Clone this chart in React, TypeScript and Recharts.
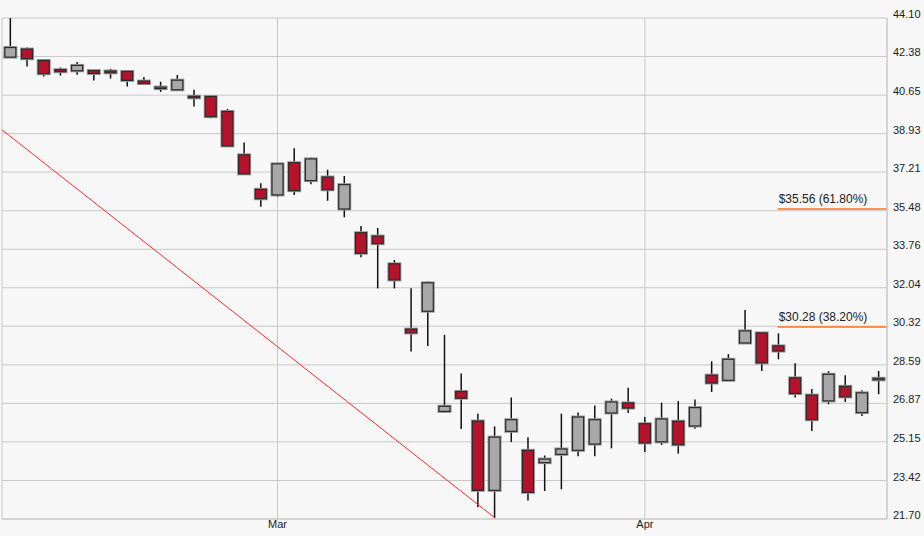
import {
  ComposedChart,
  Bar,
  Line,
  XAxis,
  YAxis,
  CartesianGrid,
  ReferenceLine,
} from "recharts";

// trading days, Feb 6 – Apr 22
const dates = [
  "2020-02-06", "2020-02-07", "2020-02-10", "2020-02-11", "2020-02-12", "2020-02-13",
  "2020-02-14", "2020-02-18", "2020-02-19", "2020-02-20", "2020-02-21", "2020-02-24",
  "2020-02-25", "2020-02-26", "2020-02-27", "2020-02-28",
  "2020-03-02", "2020-03-03", "2020-03-04", "2020-03-05", "2020-03-06", "2020-03-09",
  "2020-03-10", "2020-03-11", "2020-03-12", "2020-03-13", "2020-03-16", "2020-03-17",
  "2020-03-18", "2020-03-19", "2020-03-20", "2020-03-23", "2020-03-24", "2020-03-25",
  "2020-03-26", "2020-03-27", "2020-03-30", "2020-03-31",
  "2020-04-01", "2020-04-02", "2020-04-03", "2020-04-06", "2020-04-07", "2020-04-08",
  "2020-04-09", "2020-04-13", "2020-04-14", "2020-04-15", "2020-04-16", "2020-04-17",
  "2020-04-20", "2020-04-21", "2020-04-22",
];

const opens = [
  42.35, 42.71, 42.2, 41.79, 41.74, 41.75, 41.73, 41.71, 41.28, 40.99, 40.89, 40.6,
  40.59, 39.92, 37.98, 36.44,
  36.19, 37.63, 36.83, 36.99, 35.56, 34.5, 34.35, 33.11, 30.19, 30.99, 26.51, 27.4,
  26.08, 22.98, 25.62, 24.77, 24.22, 24.59, 24.77, 25.05, 26.44, 26.89,
  25.96, 25.15, 26.07, 25.86, 28.13, 27.9, 29.57, 30.02, 29.44, 28.01, 27.24, 26.98,
  27.63, 26.46, 27.97,
];
const closes = [
  42.78, 42.28, 41.61, 41.7, 41.98, 41.62, 41.65, 41.31, 41.17, 41.01, 41.32, 40.57,
  39.69, 38.38, 37.13, 36.02,
  37.58, 36.38, 37.8, 36.42, 36.65, 33.58, 34.01, 32.39, 30.02, 32.26, 26.74, 27.1,
  22.98, 25.36, 26.14, 22.89, 24.38, 24.83, 26.26, 26.14, 26.93, 26.66,
  25.1, 26.17, 25.02, 26.68, 27.78, 28.84, 30.11, 28.68, 29.21, 27.31, 26.14, 28.17,
  27.16, 27.34, 27.99,
];
const highs = [
  44.1, 42.78, 42.23, 41.89, 42.13, 41.76, 41.83, 41.74, 41.46, 41.25, 41.55, 40.89,
  40.63, 40.03, 38.53, 36.71,
  37.6, 38.28, 37.86, 37.31, 37.04, 34.8, 34.71, 33.28, 32.02, 32.32, 29.93, 28.2,
  26.41, 25.84, 27.13, 25.36, 24.54, 26.41, 26.46, 26.78, 27.08, 27.57,
  26.26, 26.9, 26.97, 27.04, 28.75, 29.07, 31.04, 30.02, 30.0, 28.66, 27.51, 28.31,
  28.13, 27.46, 28.32,
];
const lows = [
  42.34, 41.93, 41.48, 41.53, 41.56, 41.31, 41.4, 41.04, 41.11, 40.79, 40.88, 40.14,
  39.62, 38.35, 37.1, 35.66,
  36.11, 36.19, 36.67, 35.93, 35.19, 33.4, 32.01, 32.01, 29.19, 29.44, 26.44, 25.72,
  22.23, 21.74, 25.14, 22.53, 22.95, 23.03, 24.51, 24.51, 24.86, 26.44,
  24.7, 25.01, 24.62, 25.74, 27.38, 27.9, 29.55, 28.32, 28.84, 27.13, 25.63, 26.83,
  26.93, 26.3, 27.28,
];

const yTicks = [
  21.7, 23.42, 25.15, 26.87, 28.59, 30.32, 32.04, 33.76, 35.48, 37.21, 38.93, 40.65,
  42.38, 44.1,
];
const monthTicks = ["2020-03-02", "2020-04-01"];
const monthLabels = ["Mar", "Apr"];

const trendLine = [
  { idx: -0.5, v: 39.1 },
  { idx: 29, v: 21.76 },
];
const fibLevels = [35.56, 30.28];
const fibLabels = ["$35.56 (61.80%)", "$30.28 (38.20%)"];
const fibStart = 45.95;

const rows = dates.map((d, i) => ({
  date: d,
  open: opens[i],
  close: closes[i],
  high: highs[i],
  low: lows[i],
}));

const FONT = "'Liberation Sans', Arial, sans-serif";

function Candle(props: any) {
  const { x, y, width, height, payload } = props;
  if (x == null || y == null) return null;
  const { open, close, high, low } = payload;
  const ratio = height / (high - low || 1);
  const yOf = (v: number) => y + (high - v) * ratio;
  const cx = x + width / 2;
  const up = close >= open;
  const top = yOf(Math.max(open, close));
  const bh = Math.max(yOf(Math.min(open, close)) - top, 1.5);
  const w = width - 1;
  return (
    <g>
      <line x1={cx} x2={cx} y1={y} y2={y + height} stroke="#111" strokeWidth={1.5} />
      <rect x={cx - w / 2} y={top} width={w} height={bh} fill="none" stroke="#9a9a9a" strokeWidth={3} />
      <rect
        x={cx - w / 2}
        y={top}
        width={w}
        height={bh}
        fill={up ? "#a8a8a8" : "#b5122b"}
        stroke="#2a2a2a"
        strokeWidth={1.2}
      />
    </g>
  );
}

function PriceTick(props: any) {
  const { x, y, payload } = props;
  return (
    <text x={x} y={y} fontSize={11} fontFamily={FONT} fill="#222" textAnchor="start">
      {Number(payload.value).toFixed(2)}
    </text>
  );
}

function MonthTick(props: any) {
  const { x, y, payload } = props;
  const k = monthTicks.indexOf(payload.value);
  return (
    <text x={x} y={y + 9} fontSize={11} fontFamily={FONT} fill="#222" textAnchor="middle">
      {k >= 0 ? monthLabels[k] : ""}
    </text>
  );
}

function FibLabel(text: string) {
  return (props: any) => {
    const { viewBox } = props;
    if (!viewBox) return null;
    return (
      <text x={viewBox.x + 1} y={viewBox.y - 6} fontSize={12} fontFamily={FONT} fill="#222">
        {text}
      </text>
    );
  };
}

export default function App() {
  return (
    <div style={{ width: 924, height: 536, background: "#f7f7f7" }}>
      <style>{"body{margin:0;background:#f7f7f7}"}</style>
      <ComposedChart
        width={924}
        height={536}
        data={rows}
        margin={{ top: 18, right: 0, bottom: 0, left: 2 }}
        barCategoryGap="14%"
      >
        <CartesianGrid stroke="#c8c8c8" strokeWidth={1} />
        <XAxis
          dataKey="date"
          ticks={monthTicks}
          interval={0}
          height={17}
          tickLine={false}
          tickSize={0}
          tickMargin={0}
          axisLine={{ stroke: "#c8c8c8" }}
          tick={<MonthTick />}
        />
        <XAxis
          xAxisId="num"
          dataKey="idx"
          type="number"
          domain={[-0.5, 52.5]}
          allowDataOverflow
          hide
        />
        <YAxis
          orientation="right"
          width={37}
          domain={[21.7, 44.1]}
          ticks={yTicks}
          allowDataOverflow
          interval={0}
          tickLine={false}
          tickSize={0}
          tickMargin={6}
          axisLine={{ stroke: "#c8c8c8" }}
          tick={<PriceTick />}
        />
        <Line
          xAxisId="num"
          data={trendLine}
          dataKey="v"
          stroke="#ff2a2a"
          strokeWidth={1}
          dot={false}
          activeDot={false}
          isAnimationActive={false}
        />
        <Bar
          dataKey={(d: any) => [d.low, d.high]}
          shape={<Candle />}
          isAnimationActive={false}
        />
        {fibLevels.map((lv, i) => (
          <ReferenceLine
            key={lv}
            xAxisId="num"
            segment={[
              { x: fibStart, y: lv },
              { x: 52.5, y: lv },
            ]}
            stroke="#ff7518"
            strokeWidth={1.5}
            label={FibLabel(fibLabels[i])}
          />
        ))}
      </ComposedChart>
    </div>
  );
}
